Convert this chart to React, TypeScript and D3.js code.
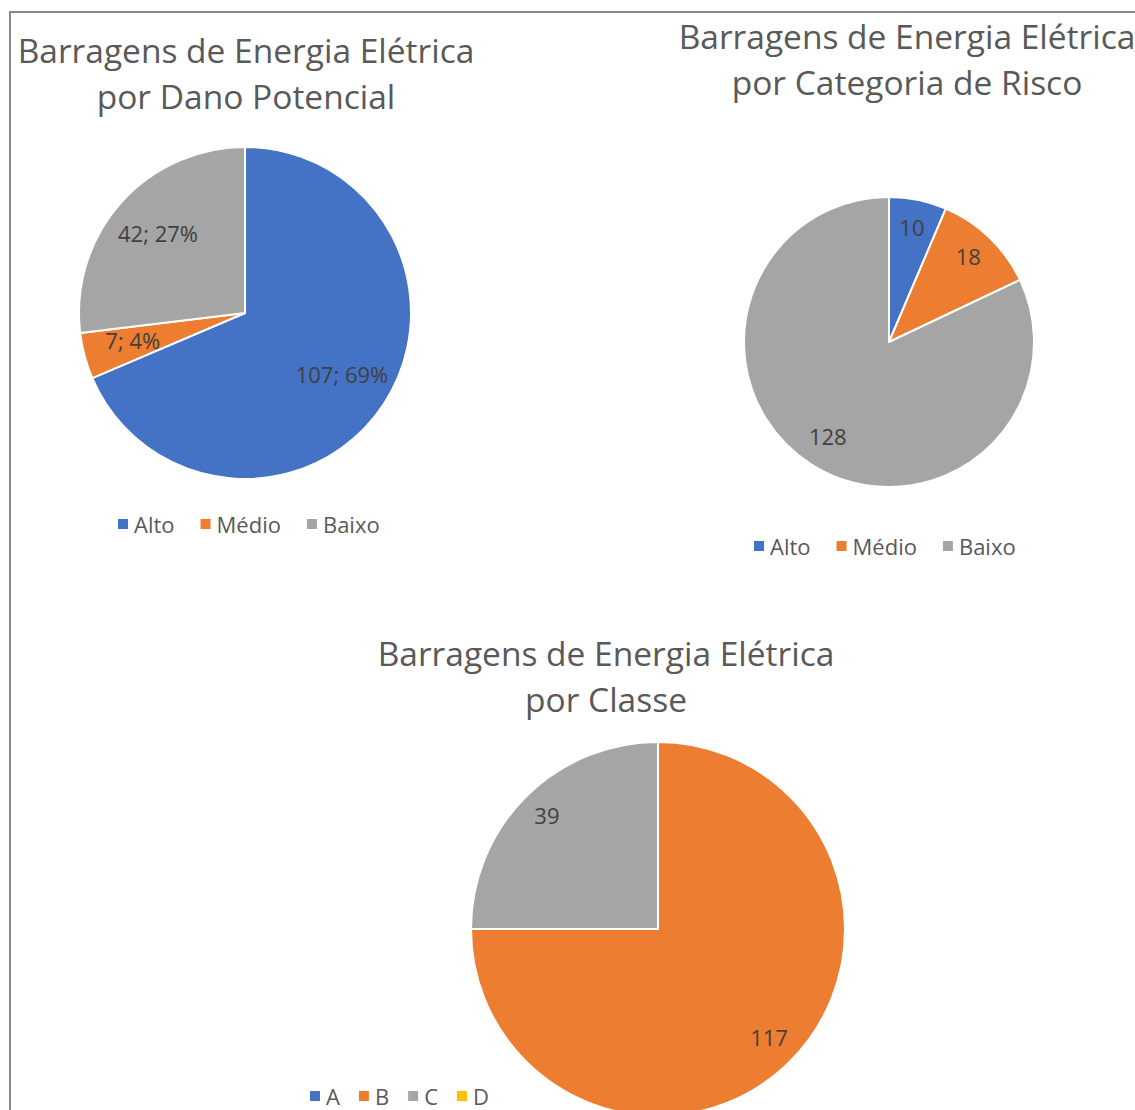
import React, { useEffect, useRef } from 'react';
import * as d3 from 'd3';

// chart data
const danoCategories = ['Alto', 'Médio', 'Baixo'];
const danoValues = [107, 7, 42];
const riscoCategories = ['Alto', 'Médio', 'Baixo'];
const riscoValues = [10, 18, 128];
const classeCategories = ['A', 'B', 'C', 'D'];
const classeValues = [0, 117, 39, 0];
const sliceColors = ['#4472C4', '#ED7D31', '#A5A5A5', '#FFC000'];

const FONT = '"Open Sans", "Noto Sans", sans-serif';
const TEXT_GREY = '#595959';
const LABEL_GREY = '#404040';

type PieSpec = {
    title: string[];
    titleX: number;
    titleY: number;
    categories: string[];
    values: number[];
    cx: number;
    cy: number;
    r: number;
    labelRatio: number;
    showPercent: boolean;
    legendX: number;
    legendY: number;
    legendGap: number;
};

const charts: PieSpec[] = [
    {
        title: ['Barragens de Energia Elétrica', 'por Dano Potencial'],
        titleX: 246, titleY: 63,
        categories: danoCategories, values: danoValues,
        cx: 245, cy: 313, r: 166, labelRatio: 0.7, showPercent: true,
        legendX: 118, legendY: 524, legendGap: 26,
    },
    {
        title: ['Barragens de Energia Elétrica', 'por Categoria de Risco'],
        titleX: 907, titleY: 49,
        categories: riscoCategories, values: riscoValues,
        cx: 889, cy: 342, r: 145, labelRatio: 0.79, showPercent: false,
        legendX: 754, legendY: 546, legendGap: 26,
    },
    {
        title: ['Barragens de Energia Elétrica', 'por Classe'],
        titleX: 606, titleY: 666,
        categories: classeCategories, values: classeValues,
        cx: 658, cy: 929, r: 187, labelRatio: 0.84, showPercent: false,
        legendX: 310, legendY: 1096, legendGap: 19,
    },
];

const App = () => {
    const svgRef = useRef<SVGSVGElement>(null);

    useEffect(() => {
        if (!svgRef.current) return;
        const svg = d3.select(svgRef.current);
        svg.selectAll('*').remove();

        // chart area frame (only top and left edge visible)
        svg.append('path')
            .attr('d', 'M10,1115 L10,12 L1140,12')
            .attr('fill', 'none')
            .attr('stroke', '#898989')
            .attr('stroke-width', 2);

        charts.forEach(spec => {
            const g = svg.append('g');
            const total = d3.sum(spec.values);

            // title
            spec.title.forEach((line, i) => {
                g.append('text')
                    .attr('x', spec.titleX)
                    .attr('y', spec.titleY + i * 46)
                    .attr('text-anchor', 'middle')
                    .style('font-family', FONT)
                    .style('font-size', '33.5px')
                    .style('fill', TEXT_GREY)
                    .text(line);
            });

            const pie = d3.pie<number>().sort(null).value(d => d);
            const arcs = pie(spec.values);
            const arc = d3.arc<d3.PieArcDatum<number>>().innerRadius(0).outerRadius(spec.r);
            const labelArc = d3.arc<d3.PieArcDatum<number>>()
                .innerRadius(spec.r * spec.labelRatio)
                .outerRadius(spec.r * spec.labelRatio);

            const pg = g.append('g').attr('transform', `translate(${spec.cx},${spec.cy})`);

            pg.selectAll('path.slice')
                .data(arcs.filter(a => a.data > 0))
                .enter().append('path')
                .attr('class', 'slice')
                .attr('d', arc)
                .attr('fill', d => sliceColors[d.index])
                .attr('stroke', '#ffffff')
                .attr('stroke-width', 2)
                .attr('stroke-linejoin', 'round');

            pg.selectAll('text.label')
                .data(arcs.filter(a => a.data > 0))
                .enter().append('text')
                .attr('class', 'label')
                .attr('transform', d => `translate(${labelArc.centroid(d)})`)
                .attr('dy', -3)
                .attr('text-anchor', 'middle')
                .attr('dominant-baseline', 'central')
                .style('font-family', FONT)
                .style('font-size', '22px')
                .style('fill', LABEL_GREY)
                .text(d => spec.showPercent
                    ? `${d.data}; ${Math.round((d.data / total) * 100)}%`
                    : `${d.data}`);

            // legend, items flow left to right
            let x = spec.legendX;
            spec.categories.forEach((cat, i) => {
                g.append('rect')
                    .attr('x', x)
                    .attr('y', spec.legendY - 5)
                    .attr('width', 10)
                    .attr('height', 10)
                    .attr('fill', sliceColors[i]);
                const t = g.append('text')
                    .attr('x', x + 16)
                    .attr('y', spec.legendY)
                    .attr('dominant-baseline', 'central')
                    .style('font-family', FONT)
                    .style('font-size', '22px')
                    .style('fill', TEXT_GREY)
                    .text(cat);
                const w = (t.node() as SVGTextElement).getComputedTextLength();
                x += 16 + w + spec.legendGap;
            });
        });
    }, []);

    return (
        <svg
            ref={svgRef}
            width={1135}
            height={1110}
            style={{ position: 'absolute', left: 0, top: 0, background: '#ffffff' }}
        />
    );
};

export default App;
